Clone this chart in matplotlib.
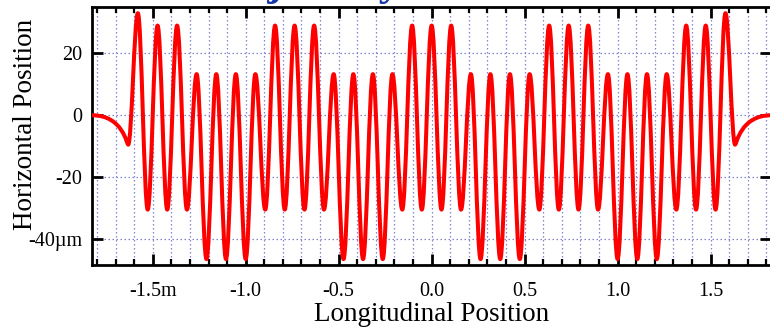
import matplotlib
matplotlib.use("Agg")
from matplotlib import pyplot as plt
from matplotlib.path import Path
from matplotlib.patches import PathPatch
from matplotlib.ticker import MultipleLocator

plt.rcParams['font.family'] = ['Liberation Serif', 'DejaVu Serif']

# peaks of the trajectory (longitudinal position in m, horizontal position in um)
peak_z = [-1.580, -1.474, -1.369, -1.264, -1.158, -1.053, -0.948, -0.842,
          -0.737, -0.632, -0.527, -0.421, -0.316, -0.211, -0.105, 0.000,
          0.105, 0.211, 0.316, 0.421, 0.527, 0.632, 0.737, 0.842,
          0.948, 1.053, 1.158, 1.264, 1.369, 1.474, 1.580]
peak_x = [33, 29, 29, 13.3, 13.3, 13.3, 13.3, 29,
          29, 29, 13.3, 13.3, 13.3, 13.3, 29, 29,
          29, 13.3, 13.3, 13.3, 13.3, 29, 29, 29,
          13.3, 13.3, 13.3, 13.3, 29, 29, 33]

# troughs
trough_z = [-1.527, -1.422, -1.316, -1.211, -1.106, -1.000, -0.895, -0.790,
            -0.684, -0.579, -0.474, -0.369, -0.263, -0.158, -0.053, 0.053,
            0.158, 0.263, 0.369, 0.474, 0.579, 0.684, 0.790, 0.895,
            1.000, 1.106, 1.211, 1.316, 1.422, 1.527]
trough_x = [-30.5, -30.5, -30.5, -46.5, -46.5, -46.5, -30.5, -30.5,
            -30.5, -30.5, -46.5, -46.5, -46.5, -30.5, -30.5, -30.5,
            -30.5, -46.5, -46.5, -46.5, -30.5, -30.5, -30.5, -30.5,
            -46.5, -46.5, -46.5, -30.5, -30.5, -30.5]

# entry / exit kicks and the flat ends
dip_z = [-1.632, 1.632]
dip_x = [-9.5, -9.5]
end_z = [-1.825, 1.825]
end_x = [0, 0]

x_ticks = [-1.5, -1.0, -0.5, 0.0, 0.5, 1.0, 1.5]
x_labels = ['-1.5m', '-1.0', '-0.5', '0.0', '0.5', '1.0', '1.5']
y_ticks = [20, 0, -20, -40]
y_labels = ['20', '0', '-20', '-40\u00b5m']

fig = plt.figure(figsize=(7.7, 3.27), dpi=100)
ax = fig.add_axes([92.3/770, 1-265/327, (771-92.3)/770, 258/327])

# smooth curve through the extrema (bezier segments, flat tangent at each knot)
knots = sorted(zip(peak_z + trough_z + dip_z + end_z, peak_x + trough_x + dip_x + end_x))
verts = [knots[0]]
codes = [Path.MOVETO]
for i in range(len(knots) - 1):
    (za, xa), (zb, xb) = knots[i], knots[i+1]
    d = zb - za
    ka, kb = 0.364, 0.364
    if i == 0:
        ka, kb = 0.855, 0.04
    elif i == len(knots) - 2:
        ka, kb = 0.04, 0.855
    verts += [(za + ka*d, xa), (zb - kb*d, xb), (zb, xb)]
    codes += [Path.CURVE4]*3
ax.add_patch(PathPatch(Path(verts, codes), fill=False, edgecolor='#ff0000',
                       lw=2.9, joinstyle='round', capstyle='round', zorder=3))

ax.set_xlim(-1.825, 1.825)
ax.set_ylim(-48.4, 35)

ax.set_xticks(x_ticks)
ax.set_xticklabels(x_labels)
ax.xaxis.set_minor_locator(MultipleLocator(0.1))
ax.set_yticks(y_ticks)
ax.set_yticklabels(y_labels)

ax.grid(True, which='both', axis='x', color='#8484d0', linestyle=(0, (1.2, 2)), lw=0.9)
ax.grid(True, which='major', axis='y', color='#8484d0', linestyle=(0, (1.2, 2)), lw=0.9)

ax.tick_params(which='both', direction='in', top=True, right=True, colors='black')
ax.tick_params(which='major', length=8, width=2.0, labelsize=14.5, pad=12)
ax.tick_params(which='minor', length=4.5, width=1.6)
ax.tick_params(axis='y', which='major', length=8, pad=7)
for s in ax.spines.values():
    s.set_linewidth(2.0)

ax.set_xlabel('Longitudinal Position', fontsize=19.5)
ax.set_ylabel('Horizontal Position', fontsize=19.5)
ax.xaxis.set_label_coords(0.5, -0.145)
ax.yaxis.set_label_coords(-0.080, 0.5465)

# title of the original chart, mostly cut off above the top edge
fig.text(199.5/770, 1 + 5/327, 'Trajectory', color='#1536a8', fontsize=32,
         fontweight='bold', ha='left', va='baseline')

fig.savefig('out.png', dpi=100)
